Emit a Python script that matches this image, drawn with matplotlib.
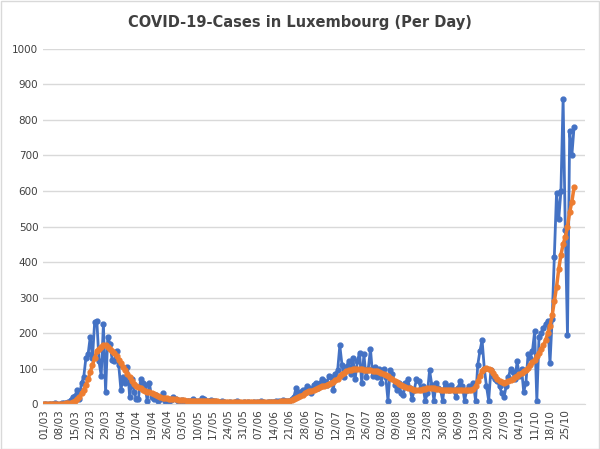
import matplotlib.pyplot as plt
import numpy as np
import datetime as dt

# daily cases, 01/03 .. 29/10
daily = [0,0,0,0,1,2,1,
         0,2,3,4,7,12,20,
         22,40,15,60,75,130,140,
         190,130,230,235,120,80,225,
         35,190,170,125,120,150,110,
         40,75,60,105,20,70,35,
         15,15,70,60,55,10,60,
         20,15,25,10,15,30,10,
         15,10,12,20,15,8,10,
         12,5,8,10,5,15,8,
         10,5,18,15,5,10,12,
         8,10,5,5,10,7,3,
         4,6,3,5,8,2,4,
         5,3,7,4,2,6,5,
         3,8,5,4,6,7,5,
         5,8,10,5,12,8,10,
         10,15,20,45,25,35,40,
         40,50,45,30,55,60,45,
         60,70,65,55,80,75,40,
         85,95,165,110,75,105,120,
         85,130,70,120,145,60,140,
         75,100,155,80,105,75,100,
         60,100,75,10,95,85,55,
         40,60,30,25,60,70,45,
         15,40,70,65,45,50,10,
         30,95,55,10,60,45,40,
         10,60,50,40,55,40,20,
         45,65,50,10,40,50,45,
         60,10,110,150,180,100,50,
         10,95,80,70,65,50,30,
         20,50,75,100,90,70,120,
         80,100,35,60,140,130,150,
         205,10,190,200,215,225,235,
         115,240,415,595,520,600,860,
         490,195,770,700,780]

# smoothed curve
avg = [0,0,0,0,0,0,0,
       0,1,1,2,3,4,6,
       10,15,20,30,40,55,70,
       90,110,130,150,155,160,165,
       165,160,155,150,145,135,125,
       115,105,95,85,75,65,58,
       52,48,45,40,38,35,33,
       30,28,25,22,20,18,17,
       16,15,14,13,13,12,12,
       11,11,10,10,10,10,10,
       10,10,10,10,10,10,9,
       9,8,8,7,7,6,6,
       5,5,5,5,5,5,5,
       5,5,5,5,5,5,5,
       5,5,5,6,6,6,6,
       7,7,7,8,8,9,9,
       10,12,15,18,20,23,26,
       30,33,36,38,40,42,45,
       48,50,52,55,58,60,63,
       67,72,78,84,88,92,95,
       97,98,98,99,99,98,97,
       97,96,95,94,93,92,90,
       88,85,82,78,74,70,66,
       62,58,55,52,49,46,44,
       42,41,40,40,41,42,43,
       44,45,45,44,43,42,41,
       40,40,40,40,40,40,40,
       40,40,40,40,40,40,40,
       42,50,65,80,92,100,102,
       100,95,88,80,72,66,62,
       60,62,65,68,72,76,80,
       84,88,92,96,102,110,118,
       125,135,145,155,165,180,200,
       220,250,290,330,380,420,450,
       470,500,540,570,610]

start = dt.date(2020, 3, 1)
labels = [(start + dt.timedelta(days=i)).strftime('%d/%m') for i in range(len(daily))]
x = np.arange(len(daily))

fig, ax = plt.subplots(figsize=(6, 4.49), dpi=100)
fig.subplots_adjust(left=0.072, right=0.975, top=0.891, bottom=0.10)
fig.patches.append(plt.Rectangle((0.001, 0.001), 0.997, 0.997, transform=fig.transFigure,
                                 fill=False, edgecolor='#d9d9d9', lw=1))
ax.plot(x, daily, color='#4472C4', lw=2, marker='o', ms=3.5)
ax.plot(x, avg, color='#ED7D31', lw=2.5, marker='o', ms=3.5)
ax.set_ylim(0, 1000)
ax.set_xlim(-0.5, 247)
ax.set_yticks(range(0, 1001, 100))
ax.set_xticks(x[::7])
ax.set_xticklabels(labels[::7], rotation=90)
ax.tick_params(labelsize=7.5, colors='#404040', length=0)
ax.grid(axis='y', color='#d9d9d9', lw=1)
ax.set_axisbelow(True)
for s in ['top', 'right', 'left']:
    ax.spines[s].set_visible(False)
ax.spines['bottom'].set_color('#d9d9d9')
fig.text(0.5, 0.951, 'COVID-19-Cases in Luxembourg (Per Day)', ha='center', va='center',
         fontsize=10.5, fontweight='bold', color='#404040')
fig.savefig('out.png')
